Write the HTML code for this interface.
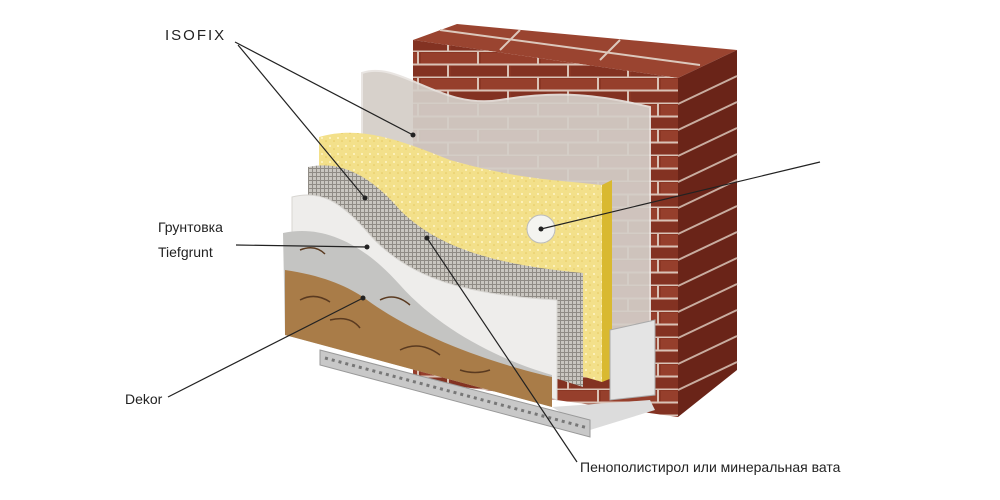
<!DOCTYPE html>
<html><head><meta charset="utf-8"><style>
html,body{margin:0;padding:0;background:#fff;width:1000px;height:500px;overflow:hidden}
text{font-family:"Liberation Sans","Noto Sans CJK SC",sans-serif;fill:#222}
</style></head><body>
<svg width="1000" height="500" viewBox="0 0 1000 500" xmlns="http://www.w3.org/2000/svg">
<defs>
<pattern id="brick" width="60" height="26" patternUnits="userSpaceOnUse">
<rect width="60" height="26" fill="#8a3624"/>
<rect x="1" y="1" width="56" height="11" fill="#963f2c"/>
<rect x="-29" y="14" width="56" height="11" fill="#833222"/>
<rect x="31" y="14" width="56" height="11" fill="#833222"/>
<path d="M0 12.5H60M0 25.5H60M58 0V12.5M28 13V26" stroke="#d9c2b6" stroke-width="2"/>
</pattern>
<pattern id="mesh" width="4" height="4" patternUnits="userSpaceOnUse">
<rect width="4" height="4" fill="#c9c6c0"/>
<path d="M0 0.5H4M0.5 0V4" stroke="#8f8b85" stroke-width="1"/>
</pattern>
<pattern id="wool" width="8" height="8" patternUnits="userSpaceOnUse">
<rect width="8" height="8" fill="#f3e08a"/>
<circle cx="2" cy="2" r="1" fill="#fff6c8"/><circle cx="6" cy="5" r="0.8" fill="#e6c860"/>
</pattern>
</defs>

<!-- brick wall -->
<polygon points="413,40 457,24 737,50 678,78" fill="#9a4430"/>
<g stroke="#dcc8bc" stroke-width="2">
<line x1="440" y1="30" x2="700" y2="65"/>
<line x1="520" y1="30" x2="500" y2="50"/><line x1="620" y1="40" x2="600" y2="60"/>
</g>
<polygon points="413,40 678,78 678,417 413,380" fill="url(#brick)"/>
<polygon points="678,78 737,50 737,370 678,417" fill="#6a2418"/>
<g stroke="#c9ada0" stroke-width="2">
<line x1="678" y1="104" x2="737" y2="76"/><line x1="678" y1="130" x2="737" y2="102"/>
<line x1="678" y1="156" x2="737" y2="128"/><line x1="678" y1="182" x2="737" y2="154"/>
<line x1="678" y1="208" x2="737" y2="180"/><line x1="678" y1="234" x2="737" y2="206"/>
<line x1="678" y1="260" x2="737" y2="232"/><line x1="678" y1="286" x2="737" y2="258"/>
<line x1="678" y1="312" x2="737" y2="284"/><line x1="678" y1="338" x2="737" y2="310"/>
<line x1="678" y1="364" x2="737" y2="336"/><line x1="678" y1="390" x2="737" y2="362"/>
</g>

<!-- gray plaster sheet -->
<path d="M362,73 C400,60 440,110 500,100 C560,90 600,95 650,107 L650,360 L362,330 Z" fill="#d4cec8" opacity="0.93" stroke="#e8e4e0" stroke-width="2"/>

<!-- yellow wool -->
<polygon points="602,185 612,180 612,378 602,382" fill="#d9b930"/>
<path d="M319,137 C360,125 400,140 450,160 C520,180 560,180 602,185 L602,382 L319,300 Z" fill="url(#wool)"/>

<!-- mesh -->
<path d="M308,167 C340,160 370,175 400,210 C440,250 500,265 583,273 L583,387 L308,300 Z" fill="url(#mesh)"/>

<!-- white layer -->
<path d="M292,197 C320,190 340,200 370,235 C410,280 470,295 557,300 L557,400 L292,300 Z" fill="#eeedeb" stroke="#d8d6d2"/>

<!-- metal profile -->
<polygon points="552,407 650,400 655,410 590,430" fill="#dcdcdc"/>
<polygon points="610,330 655,320 655,395 610,400" fill="#e4e4e4" stroke="#aaa"/>
<polygon points="320,350 590,420 590,437 320,365" fill="#c8c8c8" stroke="#999"/>
<line x1="325" y1="358" x2="588" y2="428" stroke="#777" stroke-width="3" stroke-dasharray="3,4"/>

<!-- decor -->
<path d="M283,233 C320,225 360,240 400,285 C440,330 500,360 552,375 L552,407 L285,335 Z" fill="#c4c4c2"/>
<path d="M285,270 C320,275 345,285 363,297 C420,340 500,365 552,377 L552,407 L285,335 Z" fill="#a97c48"/>
<path d="M300,300 q15,-8 30,2 M330,320 q20,-5 30,8 M400,350 q20,-10 40,5 M460,370 q15,5 30,0 M300,250 q15,-6 25,4 M380,300 q15,-8 30,5" stroke="#5a3a20" stroke-width="1.5" fill="none"/>

<!-- dowel -->
<circle cx="541" cy="229" r="14" fill="#f4f4f0" stroke="#bbb"/>

<!-- leader lines -->
<g stroke="#222" stroke-width="1.2" fill="none">
<line x1="235" y1="42" x2="413" y2="135"/>
<line x1="238" y1="45" x2="365" y2="198"/>
<line x1="236" y1="245" x2="367" y2="247"/>
<line x1="168" y1="397" x2="363" y2="298"/>
<line x1="577" y1="462" x2="427" y2="238"/>
<line x1="820" y1="162" x2="541" y2="229"/>
</g>
<g fill="#222">
<circle cx="413" cy="135" r="2.5"/><circle cx="365" cy="198" r="2.5"/>
<circle cx="367" cy="247" r="2.5"/><circle cx="363" cy="298" r="2.5"/>
<circle cx="427" cy="238" r="2.5"/><circle cx="541" cy="229" r="2.5"/>
</g>

<text x="165" y="40" font-size="15" letter-spacing="2">ISOFIX</text>
<text x="158" y="232" font-size="14">Грунтовка</text>
<text x="158" y="257" font-size="14">Tiefgrunt</text>
<text x="125" y="404" font-size="14">Dekor</text>
<text x="580" y="472" font-size="14">Пенополистирол или минеральная вата</text>
</svg>
</body></html>
